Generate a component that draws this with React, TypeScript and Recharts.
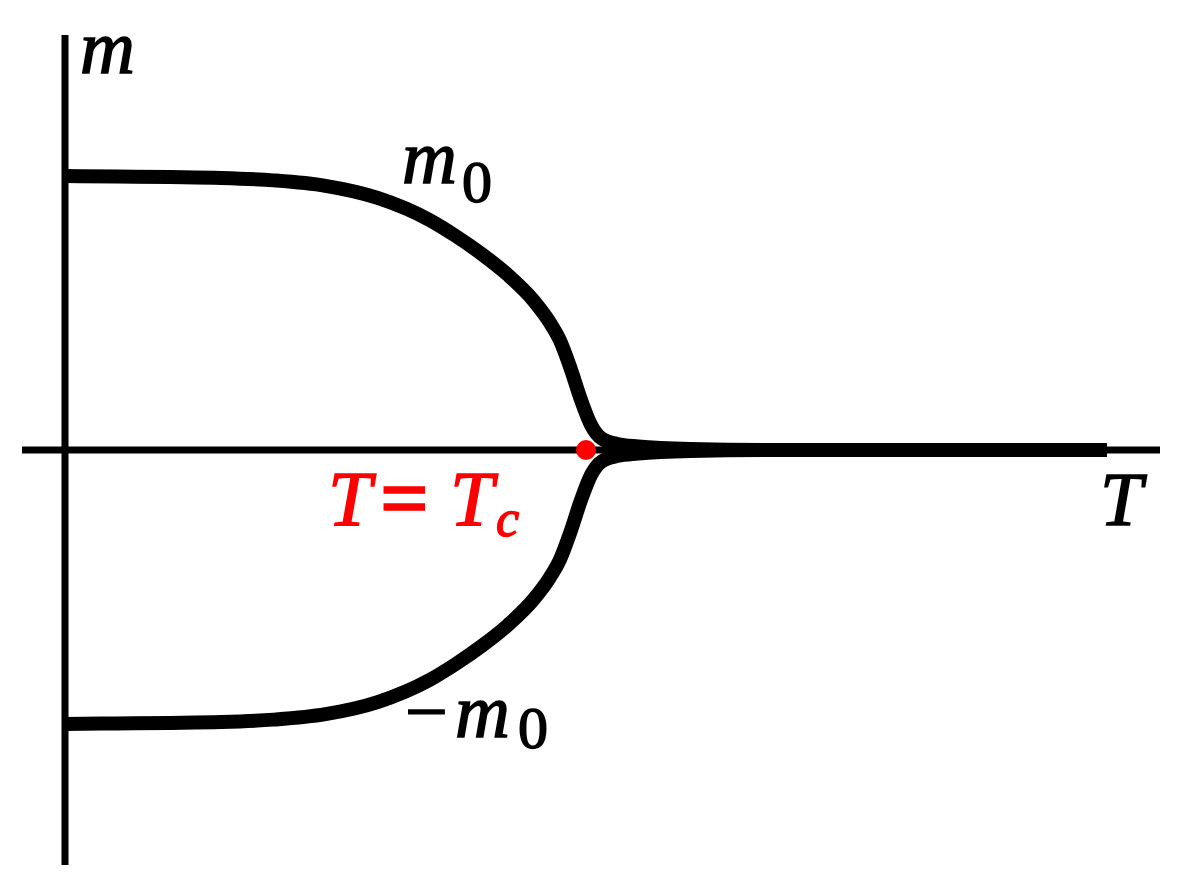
import React from 'react';
import { ComposedChart, Line, Scatter, XAxis, YAxis, ReferenceLine } from 'recharts';

// temperature samples (T / Tc)
const temps = [0, 0.1, 0.2, 0.3, 0.4, 0.5, 0.6, 0.7, 0.75, 0.8, 0.85, 0.9, 0.93, 0.95, 0.97, 0.99, 1.01, 1.03, 1.06, 1.1, 1.2, 1.4, 2.0];
// upper branch m0(T)
const upperM = [1.0, 0.998, 0.996, 0.993, 0.984, 0.964, 0.92, 0.839, 0.781, 0.715, 0.639, 0.544, 0.467, 0.4, 0.3, 0.185, 0.09, 0.042, 0.022, 0.013, 0.004, 0, 0];
// lower branch -m0(T)
const lowerM = [-1.0, -0.998, -0.996, -0.993, -0.984, -0.964, -0.92, -0.839, -0.781, -0.715, -0.639, -0.544, -0.467, -0.4, -0.3, -0.185, -0.09, -0.042, -0.022, -0.013, -0.004, 0, 0];
// critical point
const critical = [{ T: 1.0, m: 0 }];

const data = temps.map((T, i) => ({ T, up: upperM[i], down: lowerM[i] }));

const W = 1181;
const H = 886;

const RedDot = (props: any) => <circle cx={props.cx} cy={props.cy} r={10} fill="#ff0000" />;

const font = "'Liberation Serif', 'Times New Roman', serif";

export default function App() {
  return (
    <div style={{ position: 'absolute', left: 0, top: 0, width: W, height: H, background: '#fff' }}>
      <ComposedChart width={W} height={H} data={data} margin={{ top: 0, right: 0, bottom: 0, left: 0 }}>
        <XAxis hide type="number" dataKey="T" scale="linear" domain={[-0.12476, 2.142]} allowDataOverflow />
        <YAxis hide type="number" scale="linear" domain={[-1.5912, 1.6423]} allowDataOverflow />
        <Scatter data={critical} dataKey="m" shape={RedDot} isAnimationActive={false} />
        <ReferenceLine segment={[{ x: -0.0825, y: 0 }, { x: 2.1017, y: 0 }]} stroke="#000" strokeWidth={7} ifOverflow="visible" />
        <ReferenceLine segment={[{ x: 0, y: 1.5146 }, { x: 0, y: -1.5146 }]} stroke="#000" strokeWidth={7} ifOverflow="visible" />
        <Line type="monotone" dataKey="up" stroke="#000" strokeWidth={14} strokeLinejoin="round" dot={false} activeDot={false} isAnimationActive={false} />
        <Line type="monotone" dataKey="down" stroke="#000" strokeWidth={14} strokeLinejoin="round" dot={false} activeDot={false} isAnimationActive={false} />
      </ComposedChart>
      <svg width={W} height={H} style={{ position: 'absolute', left: 0, top: 0, pointerEvents: 'none', fontFamily: font }}>
        <g fill="#000" stroke="#000" strokeWidth={1.5}>
          <text x={80} y={73} fontSize={76} fontStyle="italic">m</text>
          <text x={402} y={183} fontSize={76} fontStyle="italic">m</text>
          <text x={462} y={202} fontSize={60}>0</text>
          <text x={405} y={737} fontSize={76}>−</text>
          <text x={455} y={737} fontSize={76} fontStyle="italic">m</text>
          <text x={518} y={748} fontSize={60}>0</text>
          <text x={1100} y={525} fontSize={76} fontStyle="italic">T</text>
        </g>
        <g fill="#ff0000" stroke="#ff0000" strokeWidth={1.5}>
          <text x={328} y={525} fontSize={78} fontStyle="italic">T</text>
          <text x={380} y={527} fontSize={86} fontWeight="bold">=</text>
          <text x={450} y={525} fontSize={78} fontStyle="italic">T</text>
          <text x={496} y={536} fontSize={52} fontStyle="italic">c</text>
        </g>
      </svg>
    </div>
  );
}
